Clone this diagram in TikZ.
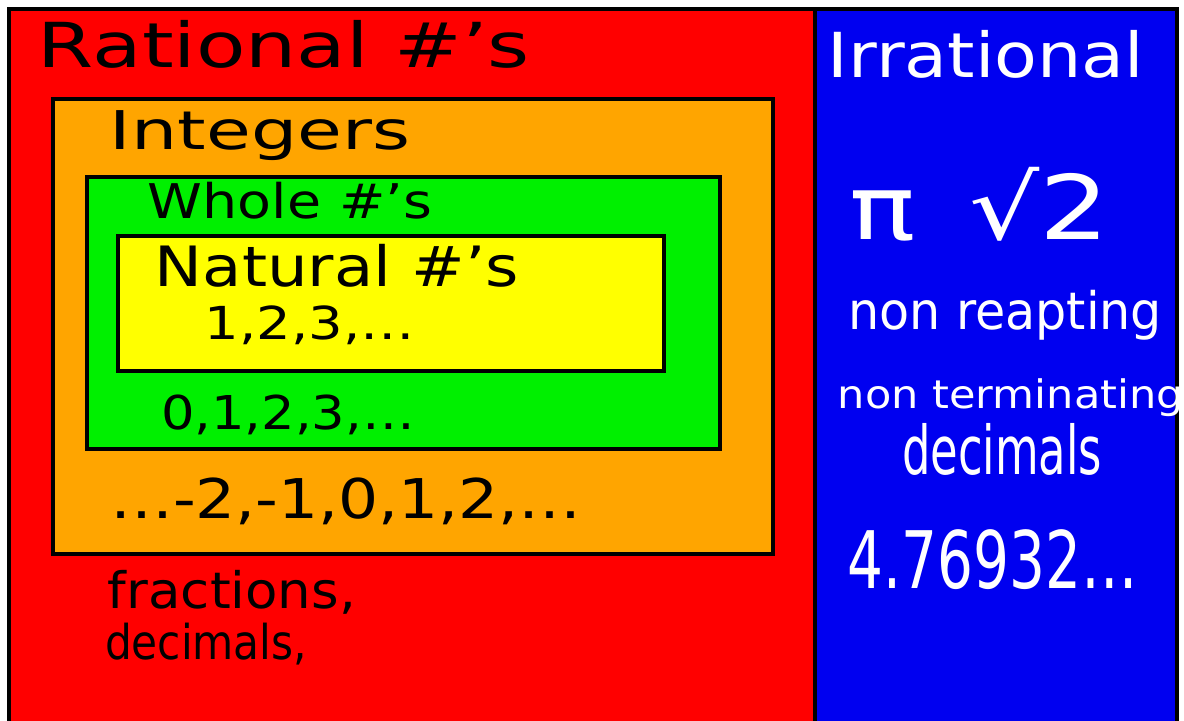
\documentclass[tikz,border=0pt]{standalone}
\usepackage{fontspec}
\setmainfont{DejaVu Sans}
\usepackage{graphicx}
\definecolor{rred}{RGB}{255,0,0}
\definecolor{iblue}{RGB}{0,0,240}
\definecolor{iorange}{RGB}{255,165,0}
\definecolor{wgreen}{RGB}{0,240,0}
\definecolor{nyellow}{RGB}{255,255,0}
\newcommand{\fitto}[3]{\resizebox*{#1pt}{#2pt}{#3}}
\tikzset{
  region/.style={draw=black, line width=1.6pt},
  lbl/.style={inner sep=0pt, text=black},
  wlbl/.style={inner sep=0pt, text=white},
}
\begin{document}
\begin{tikzpicture}[x=0.5pt,y=-0.5pt]
\useasboundingbox (0,0) rectangle (1184,720);
\fill[white] (0,0) rectangle (1184,720);
\begin{scope}
\clip (0,0) rectangle (1184,720);
\draw[region, fill=rred] (9,9) rectangle (815,740);
\draw[region, fill=iblue] (815,9) rectangle (1177,740);
\end{scope}
\draw[region, fill=iorange] (53,99) rectangle (773,554);
\draw[region, fill=wgreen] (87,177) rectangle (720,449);
\draw[region, fill=nyellow] (118,236) rectangle (664,371);

\node[lbl] (rat) at (284,44) {\fitto{246}{24}{Rational \#'s}};
\node[wlbl] (irr) at (986,54) {\fitto{158}{24}{Irrational}};
\node[lbl] (int) at (260,136) {\fitto{150}{25}{Integers}};
\node[lbl] (who) at (290,201) {\fitto{142}{18.5}{Whole \#'s}};
\node[lbl] (nat) at (337,266) {\fitto{182}{21.5}{Natural \#'s}};
\node[lbl] (natx) at (310,325) {\fitto{105}{19.5}{1,2,3,…}};
\node[lbl] (whox) at (288,415) {\fitto{127}{20}{0,1,2,3,…}};
\node[lbl] (intx) at (346,501) {\fitto{236}{23.5}{…-2,-1,0,1,2,…}};
\node[lbl] (frac) at (232,592) {\fitto{124}{22}{fractions,}};
\node[lbl] (dec) at (206,644) {\fitto{101}{21}{decimals,}};
\node[wlbl] (pi) at (980,204) {\fitto{130}{37}{π \,√2}};
\node[wlbl] (nrep) at (1005,315) {\fitto{157}{25}{non reapting}};
\node[wlbl] (nterm) at (1011,398) {\fitto{173}{19}{non terminating}};
\node[wlbl] (idec) at (1002,449) {\fitto{100}{26}{decimals}};
\node[wlbl] (num) at (993,560) {\fitto{145}{30}{4.76932…}};
\end{tikzpicture}
\end{document}
